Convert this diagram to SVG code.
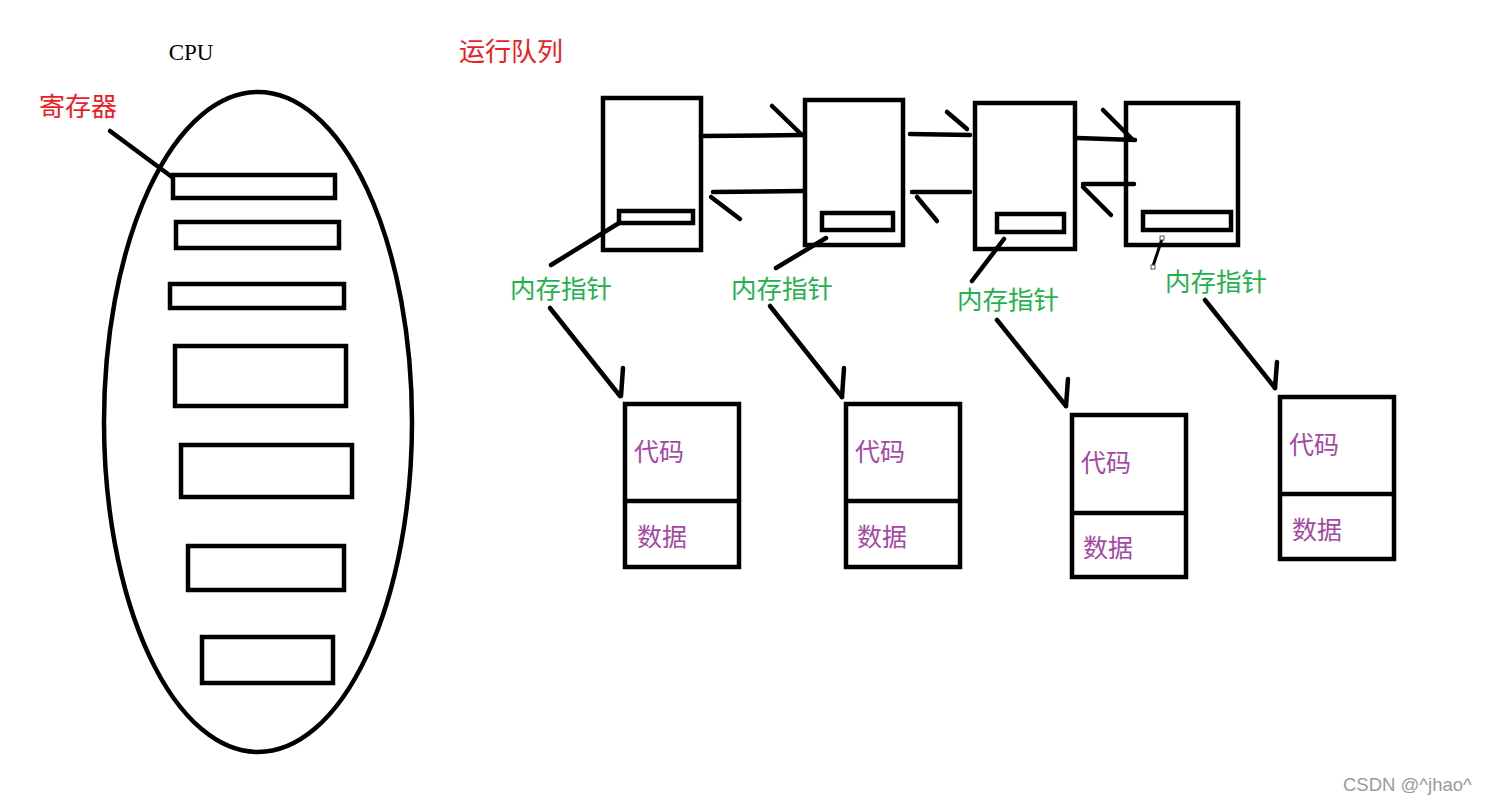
<svg xmlns="http://www.w3.org/2000/svg" width="1488" height="805" viewBox="0 0 1488 805">
<style>
.s{fill:none;stroke:#000;stroke-width:4.5;stroke-linecap:round;stroke-linejoin:miter}
.red{fill:#ed1c24;font-family:"Noto Sans CJK SC",sans-serif;font-size:26px}
.grn{fill:#22b14c;font-family:"Noto Sans CJK SC",sans-serif;font-size:25.5px}
.pur{fill:#a349a4;font-family:"Noto Sans CJK SC",sans-serif;font-size:25px}
</style>
<rect width="1488" height="805" fill="#fff"/>
<g id="cpu">
<text x="191" y="60" text-anchor="middle" font-family="Liberation Serif, serif" font-size="23" fill="#000">CPU</text>
<ellipse class="s" cx="258" cy="422" rx="154" ry="330"/>
<rect class="s" x="173" y="175" width="162" height="23"/>
<rect class="s" x="176" y="222" width="163" height="26"/>
<rect class="s" x="170" y="284" width="174" height="24"/>
<rect class="s" x="175" y="346" width="171" height="60"/>
<rect class="s" x="181" y="445" width="171" height="52"/>
<rect class="s" x="188" y="546" width="156" height="44"/>
<rect class="s" x="202" y="637" width="131" height="46"/>
</g>
<g id="register-label">
<text class="red" x="39" y="116">寄存器</text>
<line class="s" x1="110" y1="131" x2="172" y2="177"/>
</g>
<g id="runqueue-label">
<text class="red" x="459" y="61">运行队列</text>
</g>
<g id="p1">
<rect class="s" x="603" y="98" width="98" height="152"/>
<rect class="s" x="619" y="211" width="74" height="12"/>
</g>
<g id="p2">
<rect class="s" x="805" y="100" width="98" height="145"/>
<rect class="s" x="822" y="213" width="71" height="17"/>
</g>
<g id="p3">
<rect class="s" x="975" y="103" width="100" height="146"/>
<rect class="s" x="997" y="214" width="67" height="18"/>
</g>
<g id="p4">
<rect class="s" x="1126" y="103" width="112" height="142"/>
<rect class="s" x="1143" y="212" width="88" height="18"/>
</g>
<g id="ptr1"><text class="grn" x="510" y="298">内存指针</text></g>
<g id="ptr2"><text class="grn" x="731" y="298">内存指针</text></g>
<g id="ptr3"><text class="grn" x="957" y="309">内存指针</text></g>
<g id="ptr4"><text class="grn" x="1165" y="291">内存指针</text></g>
<g id="mem1">
<rect class="s" x="625" y="404" width="114" height="163"/>
<line class="s" x1="625" y1="501" x2="739" y2="501"/>
<text class="pur" x="634" y="461">代码</text>
<text class="pur" x="637" y="546">数据</text>
</g>
<g id="mem2">
<rect class="s" x="846" y="404" width="114" height="163"/>
<line class="s" x1="846" y1="501" x2="960" y2="501"/>
<text class="pur" x="855" y="461">代码</text>
<text class="pur" x="857" y="546">数据</text>
</g>
<g id="mem3">
<rect class="s" x="1072" y="415" width="114" height="162"/>
<line class="s" x1="1072" y1="513" x2="1186" y2="513"/>
<text class="pur" x="1081" y="472">代码</text>
<text class="pur" x="1083" y="557">数据</text>
</g>
<g id="mem4">
<rect class="s" x="1280" y="397" width="114" height="162"/>
<line class="s" x1="1280" y1="494" x2="1394" y2="494"/>
<text class="pur" x="1289" y="454">代码</text>
<text class="pur" x="1292" y="539">数据</text>
</g>
<g id="connectors">
<line class="s" x1="701" y1="136" x2="803" y2="135"/>
<line class="s" x1="772" y1="106" x2="802" y2="135"/>
<line class="s" x1="803" y1="191" x2="713" y2="192"/>
<line class="s" x1="711" y1="197" x2="740" y2="219"/>
<line class="s" x1="910" y1="134" x2="970" y2="135"/>
<line class="s" x1="947" y1="112" x2="967" y2="129"/>
<line class="s" x1="970" y1="192" x2="912" y2="192"/>
<line class="s" x1="917" y1="197" x2="937" y2="221"/>
<line class="s" x1="1077" y1="138" x2="1135" y2="140"/>
<line class="s" x1="1103" y1="110" x2="1132" y2="139"/>
<line class="s" x1="1134" y1="184" x2="1083" y2="184"/>
<line class="s" x1="1083" y1="187" x2="1111" y2="215"/>
<line class="s" x1="619" y1="223" x2="551" y2="265"/>
<line class="s" x1="826" y1="238" x2="776" y2="268"/>
<line class="s" x1="1004" y1="239" x2="972" y2="281"/>
<line stroke="#000" stroke-width="3" x1="1162" y1="239" x2="1153" y2="266"/>
<rect x="1160" y="236" width="4" height="4" fill="#fff" stroke="#555" stroke-width="1"/>
<rect x="1151" y="265" width="4" height="4" fill="#fff" stroke="#555" stroke-width="1"/>
<line class="s" x1="550" y1="308" x2="620" y2="396"/>
<line class="s" x1="623" y1="368" x2="621" y2="396"/>
<line class="s" x1="770" y1="306" x2="842" y2="397"/>
<line class="s" x1="844" y1="368" x2="842" y2="397"/>
<line class="s" x1="997" y1="320" x2="1066" y2="406"/>
<line class="s" x1="1068" y1="379" x2="1066" y2="406"/>
<line class="s" x1="1205" y1="300" x2="1275" y2="388"/>
<line class="s" x1="1277" y1="362" x2="1275" y2="388"/>
</g>
<text x="1343" y="791" font-family="Liberation Sans, sans-serif" font-size="18.5" fill="#9a9a9a">CSDN @^jhao^</text>
</svg>
